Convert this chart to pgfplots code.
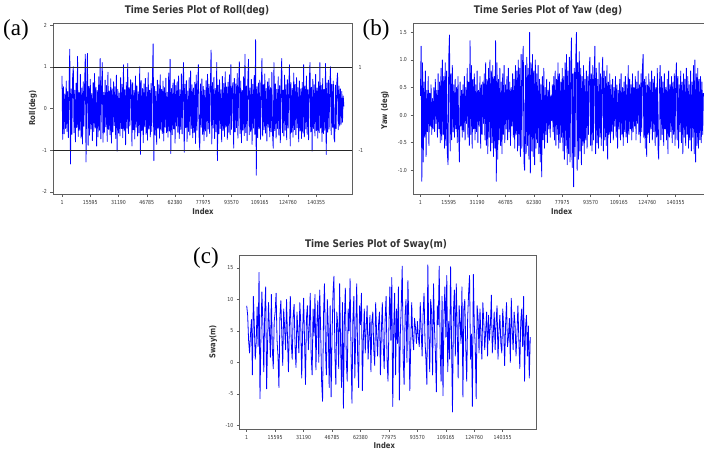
\documentclass[border=0pt]{standalone}
\usepackage{fontspec}
\usepackage{pgfplots}
\pgfplotsset{compat=1.18}
\setmainfont{Liberation Serif}
\newfontfamily\plotfont{DejaVu Sans}[FakeStretch=0.85]

\definecolor{framegray}{RGB}{95,95,95}
\definecolor{ticktext}{RGB}{55,55,55}
\definecolor{seriesblue}{RGB}{0,0,255}

\newcommand{\ticksize}{\plotfont\fontsize{5.5}{6.5}\selectfont}
\newcommand{\titlesize}{\plotfont\bfseries\fontsize{10.5}{12}\selectfont}
\newcommand{\labelsize}{\plotfont\bfseries\fontsize{8}{9}\selectfont}

\pgfplotsset{
  tsplot/.style={
    scale only axis,
    axis line style={framegray, line width=0.6pt},
    tick align=outside,
    xtick pos=left, ytick pos=left,
    major tick length=2.5pt,
    every tick/.style={framegray, line width=0.5pt},
    tick label style={font=\ticksize, text=ticktext},
    scaled x ticks=false, scaled y ticks=false,
    xtick={1,15595,31190,46785,62380,77975,93570,109165,124760,140355},
    xticklabels={1,15595,31190,46785,62380,77975,93570,109165,124760,140355},
  },
  tsline/.style={draw=seriesblue, line width=0.8pt, line join=round, mark=none},
}

\begin{document}
\begin{tikzpicture}
\useasboundingbox (0,0) rectangle (704pt,451pt);
\fill[white] (0,0) rectangle (704pt,451pt);
\clip (0,0) rectangle (704pt,451pt);

% ---------- (a) Roll ----------
\begin{axis}[tsplot, at={(53pt,257pt)}, anchor=south west,
  width=299pt, height=171pt,
  xmin=-4970, xmax=160080, ymin=-2.05, ymax=2.05,
  ytick={-2,-1,0,1,2}, yticklabels={-2,-1,0,1,2}]
\addplot[tsline] table[row sep=\\, header=false, x expr={1+390*\coordindex}, y index=0] {
0.78\\-0.74\\0.52\\-0.61\\0.35\\-0.48\\0.66\\-0.55\\0.41\\-0.70\\0.58\\1.42\\-1.33\\0.47\\-0.62\\0.73\\1.00\\-0.58\\0.44\\-0.80\\
0.61\\-0.46\\1.25\\-0.67\\0.38\\-0.52\\0.82\\-0.71\\0.49\\-0.85\\0.64\\-0.43\\0.56\\1.30\\-1.28\\0.45\\1.32\\-0.88\\0.53\\-0.64\\
0.70\\-0.49\\0.36\\-0.77\\0.62\\-0.55\\0.84\\-0.47\\0.51\\-0.90\\0.43\\-0.68\\0.76\\-0.52\\1.20\\-0.73\\0.48\\1.10\\-0.81\\0.39\\
-0.57\\0.68\\-0.44\\0.55\\-0.79\\0.87\\-0.50\\0.42\\-0.63\\0.71\\-0.83\\0.47\\-0.56\\0.64\\-0.41\\0.52\\-0.72\\0.80\\-1.02\\0.46\\
-0.59\\0.37\\-0.66\\0.74\\-0.48\\0.58\\-0.70\\1.05\\-0.54\\0.45\\-0.87\\0.63\\-0.47\\1.08\\-0.60\\0.50\\-0.42\\0.69\\0.55\\-0.90\\
0.62\\-0.51\\0.43\\-0.73\\0.78\\-0.45\\0.54\\-0.66\\0.40\\-0.58\\1.00\\-1.10\\0.67\\-0.53\\0.48\\-0.82\\0.59\\-0.44\\0.72\\-0.62\\
0.51\\-0.76\\0.86\\-0.49\\0.44\\-0.68\\0.60\\-0.55\\0.75\\1.55\\-1.25\\0.53\\-0.64\\0.41\\-0.86\\0.68\\-0.47\\0.57\\-0.71\\0.81\\
-0.52\\0.46\\-0.60\\0.66\\-0.78\\0.50\\-0.45\\0.73\\-0.58\\0.39\\-0.69\\0.85\\-0.54\\1.18\\-1.08\\0.48\\-0.63\\0.61\\-0.49\\0.70\\
-0.83\\0.55\\-0.42\\0.64\\-0.57\\0.78\\-0.72\\0.45\\-0.50\\0.83\\-0.61\\0.52\\1.10\\-1.05\\0.58\\-0.46\\0.67\\-0.79\\0.42\\-0.55\\
0.74\\-0.64\\0.90\\-0.48\\0.57\\-0.70\\0.49\\-0.58\\0.63\\-0.84\\0.80\\-0.52\\0.46\\1.05\\-0.66\\-1.00\\0.59\\-0.45\\0.71\\-0.62\\
0.53\\-0.77\\0.44\\-0.54\\0.67\\-0.68\\0.82\\-0.49\\0.58\\-0.60\\0.50\\1.40\\-0.85\\0.62\\-0.47\\0.75\\-0.72\\0.48\\-0.56\\1.10\\
-1.25\\0.56\\-0.61\\0.69\\-0.48\\0.45\\-0.80\\0.77\\-0.53\\0.60\\-0.67\\0.88\\-0.44\\0.52\\-0.74\\0.63\\-0.57\\0.81\\-0.63\\1.05\\
-0.50\\0.47\\0.62\\-0.95\\0.72\\-0.56\\0.59\\-0.46\\0.84\\-0.71\\0.51\\1.12\\-0.60\\0.66\\-0.82\\0.43\\-0.52\\0.76\\-0.65\\1.30\\
-0.58\\0.54\\-0.77\\0.65\\1.18\\-0.63\\0.49\\-0.55\\0.70\\-0.86\\0.58\\-0.47\\0.79\\-0.62\\1.65\\-1.60\\0.52\\-0.70\\0.61\\-0.49\\
0.68\\-0.74\\0.45\\1.20\\-0.66\\0.57\\-0.51\\0.83\\-0.59\\0.48\\-0.78\\0.64\\-0.45\\0.72\\-0.68\\0.50\\-0.56\\0.87\\-0.61\\-0.95\\
1.10\\-0.53\\0.59\\-0.71\\0.46\\-0.48\\0.76\\-0.64\\0.55\\-0.82\\0.61\\1.20\\-0.58\\0.44\\-0.66\\0.80\\-0.52\\0.57\\-0.75\\0.69\\
-0.47\\0.53\\1.05\\-0.90\\0.62\\-0.57\\0.48\\-0.69\\0.85\\-0.51\\0.58\\-0.63\\0.74\\-0.46\\0.50\\-0.80\\0.66\\-0.54\\0.47\\-0.72\\
0.63\\-0.59\\1.05\\-0.68\\0.54\\-0.49\\0.78\\-0.62\\0.45\\-0.75\\0.60\\1.10\\-0.56\\0.51\\-1.02\\0.70\\-0.48\\0.57\\-0.66\\0.82\\
-0.53\\0.49\\-0.71\\0.64\\-0.58\\1.10\\-0.47\\0.55\\-0.79\\0.72\\-0.60\\0.46\\-0.52\\1.08\\-1.10\\0.61\\-0.57\\0.68\\-0.49\\0.53\\
1.00\\-0.63\\0.58\\-0.45\\0.66\\-0.70\\-0.80\\0.56\\-0.48\\0.62\\0.85\\-0.51\\0.54\\-0.42\\0.47\\-0.38\\0.41\\-0.33\\0.30\\0.05\\
};
% control limits at +/-1
\addplot[draw=black!85, line width=0.5pt, mark=none] coordinates {(-4970,1) (160080,1)};
\addplot[draw=black!85, line width=0.5pt, mark=none] coordinates {(-4970,-1) (160080,-1)};
\end{axis}

% ---------- (b) Yaw ----------
\begin{axis}[tsplot, at={(413pt,257pt)}, anchor=south west,
  width=299pt, height=171pt,
  xmin=-4070, xmax=160340, ymin=-1.43, ymax=1.67,
  ytick={-1,-0.5,0,0.5,1,1.5}, yticklabels={-1.0,-0.5,0.0,0.5,1.0,1.5}]
\addplot[tsline] table[row sep=\\, header=false, x expr={1+390*\coordindex}, y index=0] {
0.35\\1.25\\-1.20\\0.95\\-0.85\\0.60\\-0.40\\0.80\\-0.75\\0.45\\-0.30\\0.70\\-0.55\\0.40\\-0.20\\0.55\\-0.35\\0.30\\-0.25\\0.50\\
-0.30\\0.65\\-0.15\\0.45\\-0.40\\0.75\\-0.25\\0.60\\-0.50\\0.85\\-0.45\\1.00\\-0.35\\0.70\\-0.60\\0.95\\-0.55\\0.80\\-0.70\\-0.90\\
1.05\\1.45\\-0.65\\0.75\\-0.45\\0.90\\-0.30\\0.55\\-0.40\\0.65\\-0.25\\0.50\\-0.50\\0.70\\-0.35\\-0.85\\0.60\\-0.20\\0.45\\-0.40\\
0.55\\-0.30\\0.70\\-0.45\\0.50\\-0.15\\0.85\\-0.40\\0.60\\-0.55\\1.35\\-0.35\\0.90\\-0.60\\0.65\\-0.25\\0.75\\-0.45\\0.55\\-0.30\\
0.80\\-0.50\\0.45\\-0.20\\0.70\\-0.60\\0.55\\-0.35\\0.60\\-0.15\\0.75\\-0.45\\0.95\\-0.55\\0.65\\-0.70\\0.85\\-0.40\\1.00\\-0.65\\
0.80\\-0.50\\0.90\\-0.75\\0.70\\-0.60\\1.35\\-1.20\\0.95\\-0.80\\0.65\\-0.45\\0.85\\-0.55\\0.60\\-0.70\\0.75\\-0.35\\0.90\\-0.50\\
0.55\\-0.25\\0.70\\-0.45\\0.85\\-0.30\\0.60\\-0.55\\0.50\\-0.20\\0.75\\-0.40\\0.65\\-0.60\\0.90\\-0.35\\0.80\\-0.65\\1.00\\-0.55\\
0.85\\-0.75\\1.10\\-0.60\\0.95\\1.25\\-0.85\\-1.00\\0.90\\-0.70\\1.05\\-0.55\\0.85\\-0.80\\1.50\\-1.05\\0.95\\-0.65\\1.10\\-0.75\\
0.80\\-0.90\\1.00\\-0.60\\0.75\\-0.50\\0.90\\-0.70\\0.65\\-0.85\\0.55\\-1.12\\0.70\\-0.45\\0.85\\-0.60\\0.50\\-0.35\\0.65\\-0.50\\
0.45\\-0.25\\0.60\\-0.40\\0.35\\-0.10\\0.55\\-0.30\\0.70\\-0.45\\0.80\\-0.55\\0.65\\-0.35\\0.95\\-0.60\\0.75\\-0.50\\0.60\\-0.40\\
0.85\\-0.65\\0.70\\-0.80\\0.95\\-0.55\\1.10\\-0.90\\0.80\\-0.70\\1.05\\-0.85\\0.90\\1.40\\-0.95\\0.75\\-1.30\\0.85\\-0.75\\1.00\\
1.50\\-1.00\\0.95\\-0.80\\1.15\\-0.65\\0.85\\-0.90\\0.70\\-0.55\\0.90\\-0.70\\0.65\\-0.45\\0.80\\-0.60\\0.70\\-0.35\\0.85\\1.05\\
-0.55\\0.75\\-0.65\\0.90\\-0.45\\0.70\\1.25\\-0.70\\0.85\\-0.50\\0.65\\-0.60\\0.95\\-0.40\\0.75\\-0.55\\0.60\\1.05\\-0.65\\0.80\\
-0.45\\0.70\\-0.55\\0.90\\-0.80\\0.60\\-0.35\\0.75\\-0.50\\0.55\\-0.30\\0.65\\-0.45\\0.50\\-0.20\\0.70\\-0.40\\0.55\\-0.60\\0.45\\
-0.25\\0.65\\-0.45\\0.75\\-0.35\\0.50\\-0.55\\0.60\\-0.30\\0.70\\-0.40\\0.55\\-0.50\\0.90\\-0.35\\0.65\\-0.25\\0.55\\-0.45\\0.75\\
-0.30\\0.50\\-0.20\\0.70\\-0.45\\0.60\\-0.15\\0.80\\-0.35\\0.55\\-0.50\\0.75\\-0.30\\0.85\\1.10\\-0.40\\0.65\\-0.60\\0.70\\-0.75\\
0.55\\-0.35\\0.75\\-0.50\\0.60\\-0.25\\0.80\\-0.45\\0.65\\-0.30\\0.70\\-0.55\\0.50\\-0.40\\0.85\\-0.60\\-0.80\\0.55\\0.90\\-0.45\\
0.70\\-0.35\\0.60\\-0.55\\0.75\\-0.25\\0.50\\-0.45\\0.65\\-0.70\\0.80\\-0.40\\0.55\\-0.30\\0.70\\-0.50\\0.60\\-0.35\\0.75\\-0.55\\
0.65\\0.95\\-0.45\\0.70\\-0.60\\0.55\\-0.30\\0.80\\-0.50\\0.60\\-0.70\\0.75\\-0.40\\0.65\\-0.55\\0.85\\-0.35\\0.70\\-0.60\\0.55\\
-0.45\\0.80\\-0.65\\0.60\\-0.40\\0.90\\-0.70\\1.00\\-0.85\\0.75\\-0.55\\0.85\\-0.60\\0.65\\-0.45\\0.70\\-0.50\\0.60\\-0.35\\0.40\\
};
\end{axis}

% ---------- (c) Sway ----------
\begin{axis}[tsplot, at={(239.3pt,22pt)}, anchor=south west,
  width=296.7pt, height=173.3pt,
  xmin=-4060, xmax=158640, ymin=-10.6, ymax=16.96,
  ytick={-10,-5,0,5,10,15}, yticklabels={-10,-5,0,5,10,15}]
\addplot[tsline] table[row sep=\\, header=false, x expr={1+520*\coordindex}, y index=0] {
9.0\\7.5\\3.5\\1.5\\4.5\\6.8\\-2.0\\10.5\\6.0\\0.5\\3.2\\8.8\\2.5\\14.3\\-5.8\\4.0\\11.2\\6.5\\-1.5\\7.8\\
12.0\\-4.2\\3.0\\9.5\\5.0\\0.8\\10.8\\2.2\\-1.0\\6.5\\8.0\\11.0\\3.5\\1.0\\-4.0\\7.2\\9.8\\4.5\\-0.5\\8.5\\
5.5\\2.0\\10.0\\4.0\\-1.5\\6.0\\10.5\\3.0\\0.5\\7.5\\9.2\\2.5\\-0.8\\8.0\\4.8\\1.5\\9.5\\6.2\\-2.5\\5.0\\
10.2\\3.5\\-3.5\\7.0\\9.0\\2.0\\5.5\\11.0\\1.0\\-2.0\\8.5\\4.2\\10.8\\-1.2\\6.0\\9.8\\0.0\\11.5\\5.0\\-3.0\\
-6.2\\7.5\\12.5\\2.5\\-2.0\\10.0\\5.5\\-4.0\\9.0\\-5.5\\4.0\\11.0\\13.7\\1.5\\-3.5\\8.0\\6.0\\-1.0\\12.5\\3.0\\
-4.0\\9.5\\-7.3\\6.5\\11.8\\0.5\\-3.0\\8.5\\5.0\\13.3\\2.0\\-6.5\\7.0\\10.5\\-2.5\\4.5\\12.5\\1.0\\-4.0\\9.0\\
6.0\\11.0\\-4.5\\3.5\\8.5\\1.5\\5.5\\9.0\\0.5\\4.0\\7.5\\-1.5\\6.5\\8.0\\2.0\\-0.5\\9.5\\4.5\\1.0\\6.0\\
8.0\\-2.0\\5.0\\9.5\\2.5\\-1.0\\7.0\\10.5\\0.5\\-3.0\\6.0\\12.0\\3.5\\13.5\\-7.0\\5.0\\11.0\\-2.0\\8.5\\3.0\\
12.0\\-6.0\\4.5\\9.0\\15.3\\1.0\\-3.5\\7.5\\10.0\\0.0\\13.0\\6.0\\-4.5\\3.0\\9.5\\4.0\\2.0\\7.0\\5.5\\3.0\\
6.5\\4.0\\2.5\\9.5\\5.0\\1.0\\7.5\\11.0\\3.5\\0.5\\-3.5\\15.5\\4.5\\-1.5\\10.0\\8.0\\-2.0\\12.5\\5.5\\1.5\\
-4.7\\9.0\\6.0\\15.3\\2.0\\-3.0\\10.5\\-5.3\\7.5\\12.0\\4.0\\13.8\\-1.5\\6.5\\0.5\\15.2\\3.5\\-7.9\\8.0\\11.5\\
1.0\\12.5\\5.0\\-2.5\\9.0\\6.5\\3.0\\12.0\\-5.5\\8.5\\10.0\\2.5\\-3.0\\7.0\\11.0\\13.8\\0.5\\4.5\\-7.0\\14.0\\
6.0\\2.5\\-5.8\\9.0\\7.0\\1.5\\8.5\\4.0\\0.5\\9.5\\6.5\\2.0\\5.0\\8.0\\1.0\\7.5\\3.5\\6.0\\10.7\\1.5\\
4.5\\8.0\\2.0\\6.5\\9.0\\0.5\\5.0\\7.5\\3.0\\1.5\\8.5\\5.5\\-0.5\\6.0\\9.5\\2.5\\4.0\\7.0\\0.0\\10.2\\
5.0\\2.0\\8.0\\6.0\\1.0\\4.5\\9.0\\3.5\\-1.0\\6.5\\8.5\\2.5\\10.5\\-3.0\\5.5\\7.5\\1.0\\5.8\\-2.5\\4.0\\
};
\end{axis}

% ---------- titles and axis labels ----------
\node[font=\titlesize, text=black!80] at (197pt,440pt) {Time Series Plot of Roll(deg)};
\node[font=\titlesize, text=black!80] at (548pt,440pt) {Time Series Plot of Yaw (deg)};
\node[font=\titlesize, text=black!80] at (376pt,206.7pt) {Time Series Plot of Sway(m)};

\node[font=\labelsize, text=black!80, rotate=90] at (33pt,343pt) {Roll(deg)};
\node[font=\labelsize, text=black!80, rotate=90] at (385pt,341pt) {Yaw (deg)};
\node[font=\labelsize, text=black!80, rotate=90] at (213.3pt,109.3pt) {Sway(m)};

\node[font=\labelsize, text=black!80] at (203pt,239.3pt) {Index};
\node[font=\labelsize, text=black!80] at (561.7pt,239.3pt) {Index};
\node[font=\labelsize, text=black!80] at (384.3pt,5.3pt) {Index};

% limit labels to the right of panel (a)
\node[font=\ticksize, text=ticktext, anchor=west] at (355pt,384pt) {1};
\node[font=\ticksize, text=ticktext, anchor=west] at (355pt,301pt) {-1};

% panel letters
\node[font=\fontsize{23}{25}\selectfont] at (16pt,421pt) {(a)};
\node[font=\fontsize{23}{25}\selectfont] at (376pt,421pt) {(b)};
\node[font=\fontsize{23}{25}\selectfont] at (206pt,193pt) {(c)};
\end{tikzpicture}
\end{document}
